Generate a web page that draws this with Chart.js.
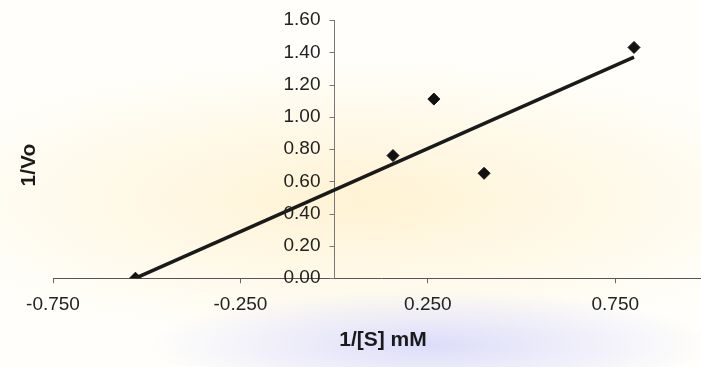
<!DOCTYPE html>
<html>
<head>
<meta charset="utf-8">
<script src="https://cdn.jsdelivr.net/npm/chart.js@4/dist/chart.umd.min.js"></script>
<style>
    html, body {
        margin: 0;
        width: 701px;
        height: 367px;
        overflow: hidden;
        background-color: #fffefa;
        background-image:
            radial-gradient(ellipse 280px 55px at 430px 345px, rgba(212, 212, 250, 0.8), rgba(212, 212, 250, 0)),
            radial-gradient(ellipse 460px 140px at 360px 200px, rgba(255, 238, 195, 0.7), rgba(255, 238, 195, 0));
    }
    #wrap {
        width: 716px;
        height: 367px;
    }
</style>
</head>
<body>
<div id="wrap"><canvas id="lbChart"></canvas></div>
<script>
// Lineweaver-Burk data
const substrateInv = [0.157, 0.266, 0.40, 0.80];   // 1/[S] mM
const velocityInv = [0.76, 1.11, 0.65, 1.43];      // 1/Vo
const interceptX = [-0.53];                         // -1/Km
const interceptY = [0];
const trendX = [-0.53, 0.80];
const trendY = [0, 1.37];
const xTicks = [-0.75, -0.25, 0.25, 0.75];
const yTicks = [0, 0.2, 0.4, 0.6, 0.8, 1.0, 1.2, 1.4, 1.6];

const toPoints = (xs, ys) => xs.map((x, i) => ({ x: x, y: ys[i] }));
const fontFamily = '"Liberation Sans", Arial, sans-serif';

// Axis titles, plus the y ticks and labels next to the axis that crosses at x = 0
const axisText = {
    id: 'axisText',
    afterDraw(chart) {
        const ctx = chart.ctx;
        const xScale = chart.scales.x;
        const yScale = chart.scales.y;
        const axisX = Math.round(xScale.getPixelForValue(0)) + 0.5;

        ctx.save();
        ctx.strokeStyle = '#777';
        ctx.lineWidth = 1;
        ctx.beginPath();
        yTicks.forEach((v) => {
            const py = Math.round(yScale.getPixelForValue(v)) + 0.5;
            ctx.moveTo(axisX - 5, py);
            ctx.lineTo(axisX, py);
        });
        ctx.stroke();

        ctx.fillStyle = '#222';
        ctx.font = '19px ' + fontFamily;
        ctx.textAlign = 'right';
        ctx.textBaseline = 'middle';
        yTicks.forEach((v) => {
            ctx.fillText(v.toFixed(2), axisX - 14, yScale.getPixelForValue(v));
        });

        ctx.fillStyle = '#1a1a1a';
        ctx.font = 'bold 21px ' + fontFamily;
        ctx.textAlign = 'center';
        ctx.fillText('1/[S] mM', 383, 340);
        ctx.translate(29, 165);
        ctx.rotate(-Math.PI / 2);
        ctx.fillText('1/Vo', 0, 0);
        ctx.restore();
    }
};

new Chart(document.getElementById('lbChart'), {
    type: 'scatter',
    data: {
        datasets: [{
            label: 'Trend',
            data: toPoints(trendX, trendY),
            showLine: true,
            borderColor: '#1a1a1a',
            borderWidth: 3.5,
            pointRadius: 0
        }, {
            label: 'Intercept',
            data: toPoints(interceptX, interceptY),
            pointStyle: 'rectRot',
            pointRadius: 6,
            backgroundColor: '#111',
            borderColor: '#111',
            borderWidth: 1
        }, {
            label: 'Measured',
            data: toPoints(substrateInv, velocityInv),
            pointStyle: 'rectRot',
            pointRadius: 6,
            backgroundColor: '#111',
            borderColor: '#111',
            borderWidth: 1
        }]
    },
    options: {
        responsive: true,
        maintainAspectRatio: false,
        animation: false,
        layout: {
            padding: { left: 53, right: 5, top: 20, bottom: 41 }
        },
        plugins: {
            legend: { display: false },
            tooltip: { enabled: false }
        },
        scales: {
            x: {
                type: 'linear',
                position: 'bottom',
                min: -0.75,
                max: 1.0,
                afterBuildTicks: (scale) => {
                    scale.ticks = xTicks.map((v) => ({ value: v }));
                },
                grid: { drawOnChartArea: false, tickLength: 5, color: '#666' },
                border: { color: '#555', width: 1 },
                ticks: {
                    color: '#222',
                    font: { family: fontFamily, size: 19 },
                    padding: 10,
                    maxRotation: 0,
                    callback: (v) => v.toFixed(3)
                }
            },
            y: {
                type: 'linear',
                position: { x: 0 },
                min: 0,
                max: 1.6,
                afterBuildTicks: (scale) => {
                    scale.ticks = yTicks.map((v) => ({ value: v }));
                },
                grid: { drawOnChartArea: false, drawTicks: false, color: '#777' },
                border: { color: '#777', width: 1 },
                ticks: { display: false }
            }
        }
    },
    plugins: [axisText]
});
</script>
</body>
</html>
